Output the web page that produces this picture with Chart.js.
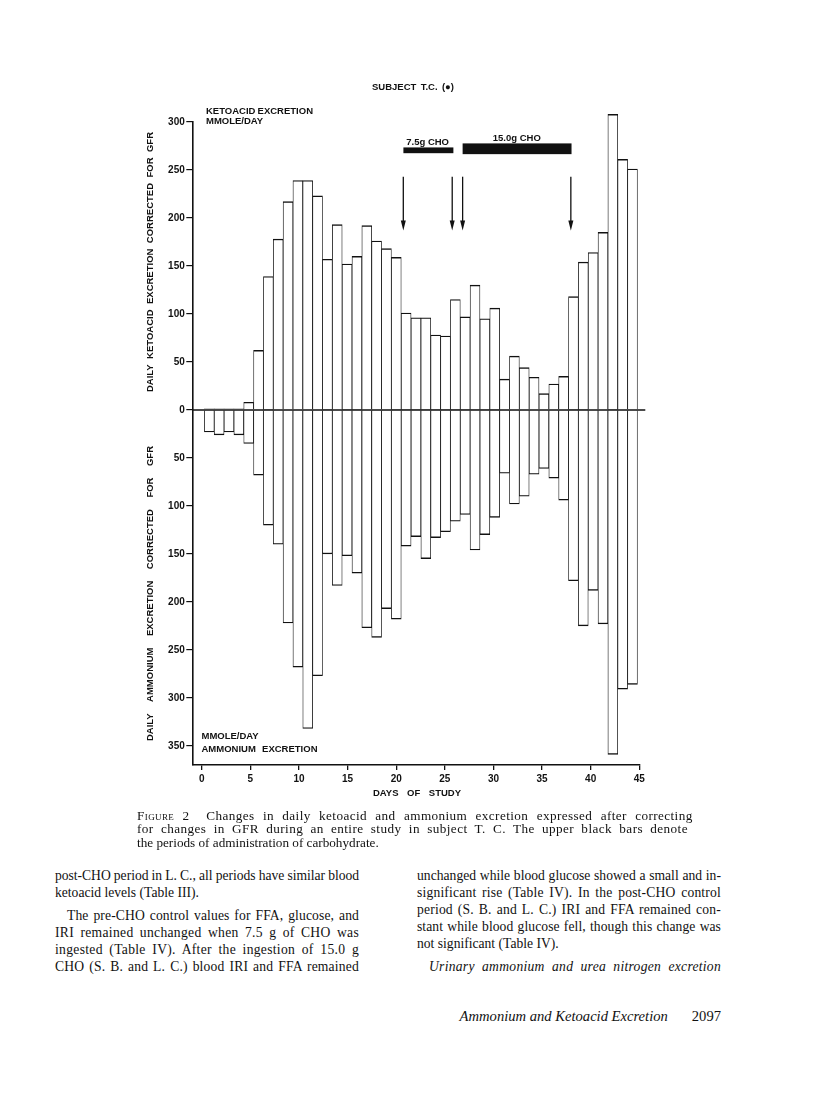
<!DOCTYPE html>
<html>
<head>
<meta charset="utf-8">
<script src="https://cdn.jsdelivr.net/npm/chart.js@4.4.1/dist/chart.umd.min.js"></script>
<style>
  html, body { margin: 0; padding: 0; background: #fff; }
  body { width: 816px; height: 1100px; position: relative; overflow: hidden; }
  #wrap { position: absolute; left: 0; top: 0; width: 816px; height: 810px; }
  .txt { position: absolute; font-family: "Liberation Serif", serif; color: #111; }
  .ln { white-space: nowrap; }
  .cap { font-size: 13.2px; line-height: 13.4px; }
  .body { font-size: 13.6px; line-height: 17px; }
  .sc { font-variant: small-caps; }
  .it { font-style: italic; }
</style>
</head>
<body>
<div id="wrap"><canvas id="chart" width="816" height="810"></canvas></div>

<div class="txt cap" style="left:137px; top:809px; width:551px;">
  <div class="ln fit"><span class="sc">Figure 2</span>&nbsp; Changes in daily ketoacid and ammonium excretion expressed after correcting</div>
  <div class="ln fit">for changes in GFR during an entire study in subject T. C. The upper black bars denote</div>
  <div class="ln">the periods of administration of carbohydrate.</div>
</div>

<div class="txt body" style="left:55px; top:867px; width:304px;">
  <div class="ln fit">post-CHO period in L. C., all periods have similar blood</div>
  <div class="ln">ketoacid levels (Table III).</div>
  <div class="ln fit" style="margin-top:6px; padding-left:12px;">The pre-CHO control values for FFA, glucose, and</div>
  <div class="ln fit">IRI remained unchanged when 7.5 g of CHO was</div>
  <div class="ln fit">ingested (Table IV). After the ingestion of 15.0 g</div>
  <div class="ln fit">CHO (S. B. and L. C.) blood IRI and FFA remained</div>
</div>

<div class="txt body" style="left:417px; top:867px; width:304px;">
  <div class="ln fit">unchanged while blood glucose showed a small and in-</div>
  <div class="ln fit">significant rise (Table IV). In the post-CHO control</div>
  <div class="ln fit">period (S. B. and L. C.) IRI and FFA remained con-</div>
  <div class="ln fit">stant while blood glucose fell, though this change was</div>
  <div class="ln">not significant (Table IV).</div>
  <div class="ln fit it" style="margin-top:6px; padding-left:12px;">Urinary ammonium and urea nitrogen excretion</div>
</div>

<div class="txt" style="left:420px; top:1008px; width:301px; text-align:right; font-size:14.6px;">
  <span class="it">Ammonium and Ketoacid Excretion</span><span style="display:inline-block; width:24px;"></span>2097
</div>

<script>
// days of study, one bar per day
const days = [1, 2, 3, 4, 5, 6, 7, 8, 9, 10, 11, 12, 13, 14, 15, 16, 17, 18, 19, 20, 21, 22,
  23, 24, 25, 26, 27, 28, 29, 30, 31, 32, 33, 34, 35, 36, 37, 38, 39, 40, 41, 42, 43, 44];

// daily ketoacid excretion corrected for GFR (mmole/day), upper bars
const ketoacid = [1, 1, 1, 1, 8, 62, 139, 178, 217, 239, 239, 223, 157, 193, 152, 160, 192, 176, 168, 159, 101, 96,
  96, 78, 77, 115, 97, 130, 95, 106, 32, 56, 44, 34, 17, 27, 35, 118, 154, 164, 185, 308, 261, 251];

// daily ammonium excretion corrected for GFR (mmole/day), drawn downward
const ammonium = [23, 26, 23, 26, 35, 68, 120, 140, 222, 268, 332, 277, 150, 183, 152, 170, 227, 237, 207, 218, 142, 132,
  155, 133, 127, 116, 109, 146, 130, 112, 66, 98, 90, 67, 61, 71, 94, 178, 225, 188, 223, 359, 291, 286];

const xTicks = [0, 5, 10, 15, 20, 25, 30, 35, 40, 45];
const yTicks = [-350, -300, -250, -200, -150, -100, -50, 0, 50, 100, 150, 200, 250, 300];

// carbohydrate periods (day from, day to) and the arrows marking start/end
const choLabels = ["7.5g CHO", "15.0g CHO"];
const choStart = [20.74, 26.83];
const choEnd = [25.88, 38.03];
const arrowDays = [20.73, 25.76, 26.83, 37.96];

const FONT = '"Liberation Sans", Arial, sans-serif';

// stretch justified lines of the page text to their column width
document.querySelectorAll(".fit").forEach((el) => {
  const target = el.parentElement.clientWidth - (parseFloat(el.style.paddingLeft) || 0);
  const span = document.createElement("span");
  while (el.firstChild) span.appendChild(el.firstChild);
  el.appendChild(span);
  const extra = target - span.getBoundingClientRect().width;
  const text = span.textContent;
  const spaces = (text.match(/ /g) || []).length;
  span.style.letterSpacing = (extra * 0.4) / text.length + "px";
  if (spaces) span.style.wordSpacing = (extra * 0.6) / spaces + "px";
});

// spread the words of a label over a given width
function spacedText(ctx, text, x, y, width) {
  const words = text.split(" ");
  const widths = words.map((w) => ctx.measureText(w).width);
  const total = widths.reduce((a, b) => a + b, 0);
  const gap = words.length > 1 ? (width - total) / (words.length - 1) : 0;
  let cx = x;
  words.forEach((w, i) => {
    ctx.fillText(w, cx, y);
    cx += widths[i] + gap;
  });
}

const decorations = {
  id: "decorations",
  afterDatasetsDraw(chart) {
    const ctx = chart.ctx;
    const x = chart.scales.x;
    const y = chart.scales.y;
    ctx.save();

    // zero line
    ctx.strokeStyle = "#111";
    ctx.lineWidth = 1.5;
    ctx.beginPath();
    ctx.moveTo(chart.chartArea.left, y.getPixelForValue(0));
    ctx.lineTo(chart.chartArea.right + 6, y.getPixelForValue(0));
    ctx.stroke();

    // black carbohydrate bars
    ctx.fillStyle = "#111";
    const choTop = [273.5, 277.7];
    const choBottom = [267.5, 266.5];
    choStart.forEach((s, i) => {
      const x0 = x.getPixelForValue(s);
      const x1 = x.getPixelForValue(choEnd[i]);
      const y0 = y.getPixelForValue(choTop[i]);
      const y1 = y.getPixelForValue(choBottom[i]);
      ctx.fillRect(x0, y0, x1 - x0, y1 - y0);
    });

    // arrows
    const yA = y.getPixelForValue(243);
    const yB = y.getPixelForValue(187);
    ctx.lineWidth = 1.3;
    arrowDays.forEach((d) => {
      const px = x.getPixelForValue(d);
      ctx.beginPath();
      ctx.moveTo(px, yA);
      ctx.lineTo(px, yB - 6);
      ctx.stroke();
      ctx.beginPath();
      ctx.moveTo(px - 2.5, yB - 10);
      ctx.lineTo(px + 2.5, yB - 10);
      ctx.lineTo(px, yB);
      ctx.closePath();
      ctx.fill();
    });

    // text
    ctx.fillStyle = "#111";
    ctx.textBaseline = "middle";
    ctx.font = "bold 9.5px " + FONT;
    ctx.textAlign = "center";
    ctx.fillText(choLabels[0], x.getPixelForValue(23.23), y.getPixelForValue(279));
    ctx.fillText(choLabels[1], x.getPixelForValue(32.4), y.getPixelForValue(283));

    ctx.textAlign = "left";
    spacedText(ctx, "SUBJECT T.C. (\u25CF)", 372, 87, 82);
    spacedText(ctx, "KETOACID EXCRETION", 206, 111.7, 107);
    ctx.fillText("MMOLE/DAY", 206, 121.7);
    ctx.fillText("MMOLE/DAY", 201.5, 736.7);
    spacedText(ctx, "AMMONIUM EXCRETION", 201.5, 749, 116);
    spacedText(ctx, "DAYS OF STUDY", 373, 793.3, 88);

    // vertical axis titles
    ctx.save();
    ctx.translate(150.7, 262);
    ctx.rotate(-Math.PI / 2);
    spacedText(ctx, "DAILY KETOACID EXCRETION CORRECTED FOR GFR", -130, 0, 260);
    ctx.restore();
    ctx.save();
    ctx.translate(150.7, 593.5);
    ctx.rotate(-Math.PI / 2);
    spacedText(ctx, "DAILY AMMONIUM EXCRETION CORRECTED FOR GFR", -147.5, 0, 295);
    ctx.restore();

    ctx.restore();
  },
};

const barStyle = {
  backgroundColor: "#fff",
  borderColor: "#111",
  borderWidth: { top: 1.4, bottom: 1.4, left: 0.8, right: 0.8 },
  barPercentage: 1,
  categoryPercentage: 1,
  grouped: false,
  clip: false,
  xAxisID: "xb",
};

new Chart(document.getElementById("chart"), {
  type: "bar",
  data: {
    datasets: [
      {
        label: "Ketoacid excretion",
        data: days.map((d, i) => ({ x: d, y: ketoacid[i] })),
        ...barStyle,
      },
      {
        label: "Ammonium excretion",
        data: days.map((d, i) => ({ x: d, y: -ammonium[i] })),
        ...barStyle,
      },
    ],
  },
  plugins: [decorations],
  options: {
    responsive: false,
    animation: false,
    events: [],
    layout: { padding: { left: 152, top: 122, right: 176.7, bottom: 15 } },
    scales: {
      xb: {
        type: "linear",
        display: false,
        offset: false,
        min: -0.728,
        max: 44.69,
      },
      x: {
        type: "linear",
        position: "bottom",
        offset: false,
        min: -0.97,
        max: 45,
        afterBuildTicks: (axis) => {
          axis.ticks = xTicks.map((v) => ({ value: v }));
        },
        afterFit: (axis) => {
          axis.height = 30;
        },
        grid: { offset: false, drawOnChartArea: false, drawTicks: true, tickLength: 5, color: "#111", lineWidth: 1.3 },
        border: { display: true, color: "#111", width: 1.6 },
        ticks: {
          color: "#111",
          padding: 3,
          maxRotation: 0,
          font: { family: FONT, size: 10, weight: "bold" },
        },
      },
      y: {
        type: "linear",
        min: -370,
        max: 300,
        afterBuildTicks: (axis) => {
          axis.ticks = yTicks.map((v) => ({ value: v }));
        },
        afterFit: (axis) => {
          axis.width = 40.3;
        },
        grid: { drawOnChartArea: false, drawTicks: true, tickLength: 6, color: "#111", lineWidth: 1.2 },
        border: { display: true, color: "#111", width: 1.6 },
        ticks: {
          color: "#111",
          padding: 1.5,
          font: { family: FONT, size: 10, weight: "bold" },
          callback: (v) => Math.abs(v),
        },
      },
    },
    plugins: {
      legend: { display: false },
      tooltip: { enabled: false },
    },
  },
});
</script>
</body>
</html>
